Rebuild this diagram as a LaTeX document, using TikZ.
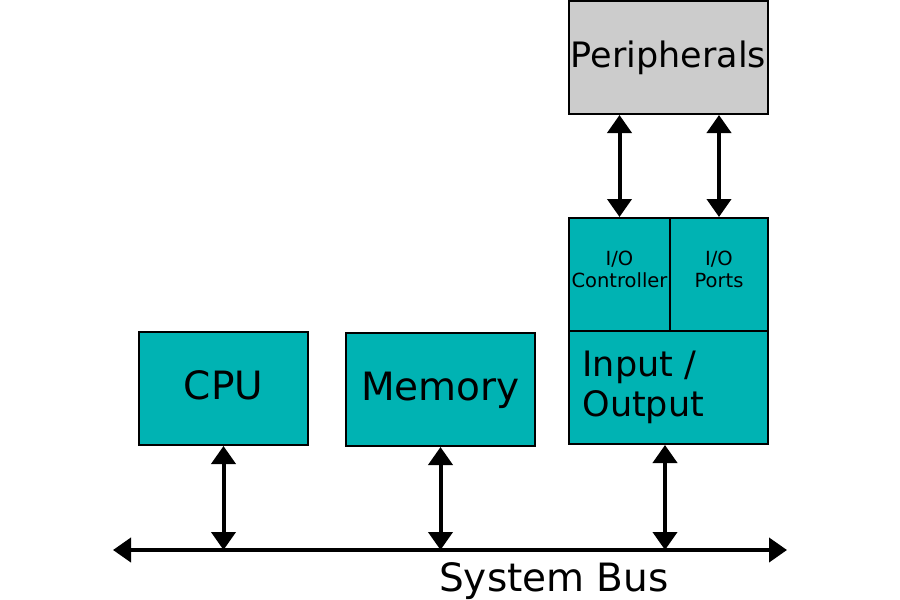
\documentclass[tikz,border=0pt]{standalone}
\usepackage{fontspec}
\setmainfont{DejaVu Sans}
\usetikzlibrary{arrows.meta}
\definecolor{BusTeal}{HTML}{00B3B3}
\definecolor{PeriphGray}{HTML}{CCCCCC}
\tikzset{
  unit/.style={draw=black,line width=2pt,fill=BusTeal,inner sep=0pt,align=center},
  bigtxt/.style={font=\fontsize{39}{40}\selectfont,text depth=6pt},
  smalltxt/.style={font=\fontsize{19.5}{22}\selectfont,text depth=10pt},
  link/.style={line width=4pt,{Triangle[width=24pt,length=18pt]}-{Triangle[width=24pt,length=18pt]}}
}
\begin{document}
\begin{tikzpicture}[x=1pt,y=-1pt]
  \useasboundingbox (0,0) rectangle (900,600);
  \node[unit,bigtxt,minimum width=169pt,minimum height=113pt] (cpu) at (223.5,388.5) {CPU};
  \node[unit,bigtxt,minimum width=189pt,minimum height=113pt] (mem) at (440.5,389.5) {Memory};
  \node[unit,minimum width=199pt,minimum height=113pt,text width=172pt,align=left,
    font=\fontsize{35}{40}\selectfont] (io) at (668.5,387.5) {Input /\\Output};
  \node[unit,smalltxt,minimum width=101pt,minimum height=113pt] (ctrl) at (619.5,274.5) {I/O\\Controller};
  \node[unit,smalltxt,minimum width=98pt,minimum height=113pt] (ports) at (719,274.5) {I/O\\Ports};
  \node[unit,fill=PeriphGray,minimum width=199pt,minimum height=113pt,
    font=\fontsize{35}{40}\selectfont] (per) at (668.5,57.5) {Peripherals};
  \coordinate (busL) at (113,550);
  \coordinate (busR) at (787,550);
  \node[font=\fontsize{39}{40}\selectfont] (bus) at (554,581) {System Bus};
  \draw[link] (busL) -- (busR);
  \draw[link] (cpu.south) -- (cpu.south |- busL);
  \draw[link] (mem.south) -- (mem.south |- busL);
  \draw[link] ([xshift=-3.5pt]io.south) -- ([xshift=-3.5pt]io.south |- busL);
  \draw[link] (per.south -| ctrl.north) -- (ctrl.north);
  \draw[link] (per.south -| ports.north) -- (ports.north);
\end{tikzpicture}
\end{document}
